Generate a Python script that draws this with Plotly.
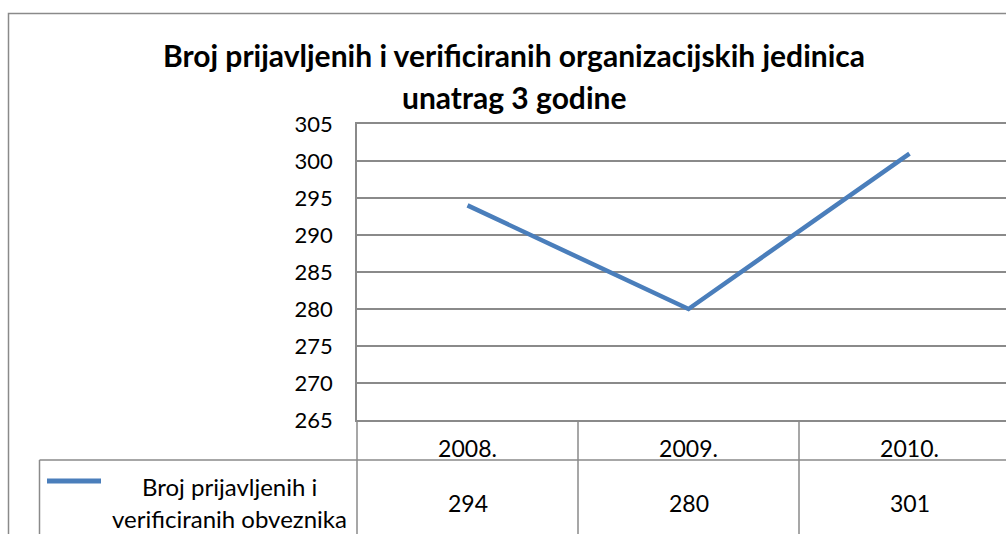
import plotly.graph_objects as go

# ---- data ----
years = ["2008.", "2009.", "2010."]
values = [294, 280, 301]
series_lines = ["Broj prijavljenih i", "verificiranih obveznika"]
y_ticks = [265, 270, 275, 280, 285, 290, 295, 300, 305]
title_line1 = "Broj prijavljenih i verificiranih organizacijskih jedinica"
title_line2 = "unatrag 3 godine"

# ---- layout geometry (page pixels) ----
W, H = 1006, 534
PL, PT, PB = 357, 124, 420   # plot left, top, bottom
GRAY = "#8a8a8a"
BLUE = "#4a7ebb"
FONT = "Lato"

def px(x):
    return (x - PL) / (W - PL)

def py(y):
    return (PB - y) / (PB - PT)

xs = list(range(len(years)))
col_w = 221
x_right = (W - PL) / col_w - 0.5

fig = go.Figure()
fig.add_trace(go.Scatter(x=xs, y=values, mode="lines",
                         line=dict(color=BLUE, width=4.5),
                         name=" ".join(series_lines), showlegend=False, hoverinfo="skip"))

shapes = []
def seg(x0, y0, x1, y1, color=GRAY, width=1.5, xref="paper"):
    shapes.append(dict(type="line", xref=xref, yref="paper", x0=x0, y0=y0, x1=x1, y1=y1,
                       line=dict(color=color, width=width), layer="above"))

# outer chart border
shapes.append(dict(type="rect", xref="paper", yref="paper", x0=px(8.5), y0=py(13.5),
                   x1=px(W + 50), y1=py(H + 50), line=dict(color=GRAY, width=1.5), layer="below"))
# y axis extension through the table
seg(px(PL), py(PB), px(PL), py(H + 5))
# data table lines
seg(px(39.5), py(460), px(W + 5), py(460))
seg(px(39.5), py(460), px(39.5), py(H + 5))
for i in range(len(years) - 1):
    seg(i + 0.5, py(PB), i + 0.5, py(H + 5), xref="x")
# legend key
seg(px(47), py(481), px(101), py(481), color=BLUE, width=5)

annotations = [
    dict(text="<b>" + title_line1 + "</b>", x=px(514), y=py(55), xref="paper", yref="paper",
         showarrow=False, font=dict(size=30, color="black", family=FONT), xanchor="center", yanchor="middle"),
    dict(text="<b>" + title_line2 + "</b>", x=px(514), y=py(97), xref="paper", yref="paper",
         showarrow=False, font=dict(size=30, color="black", family=FONT), xanchor="center", yanchor="middle"),
]
for t, yy in zip(series_lines, [486, 518]):
    annotations.append(dict(text=t, x=px(229), y=py(yy), xref="paper", yref="paper", showarrow=False,
                            font=dict(size=24, color="black", family=FONT), xanchor="center", yanchor="middle"))
for i, v in enumerate(values):
    annotations.append(dict(text=str(v), x=i, y=py(503), xref="x", yref="paper", showarrow=False,
                            font=dict(size=23, color="black", family=FONT), xanchor="center", yanchor="middle"))

fig.update_layout(
    width=W, height=H,
    margin=dict(l=PL, r=0, t=PT, b=H - PB, pad=0),
    paper_bgcolor="white", plot_bgcolor="white",
    showlegend=False,
    font=dict(family=FONT, color="black", size=22),
    shapes=shapes, annotations=annotations,
    xaxis=dict(range=[-0.5, x_right], tickmode="array", tickvals=xs, ticktext=years,
               showgrid=False, zeroline=False, showline=True, mirror=True,
               linecolor=GRAY, linewidth=1.5, ticks="", ticklabelstandoff=8,
               tickfont=dict(size=23, family=FONT, color="black"), fixedrange=True),
    yaxis=dict(range=[265, 305], tickmode="array", tickvals=y_ticks,
               showgrid=True, gridcolor=GRAY, gridwidth=1.5, zeroline=False,
               showline=True, linecolor=GRAY, linewidth=1.5, ticks="",
               ticklabelstandoff=18, tickfont=dict(size=22, family=FONT, color="black"),
               fixedrange=True),
)

fig.write_html("out.html", config={"displayModeBar": False},
               post_script="document.body.style.margin='0';document.body.style.overflow='hidden';")
